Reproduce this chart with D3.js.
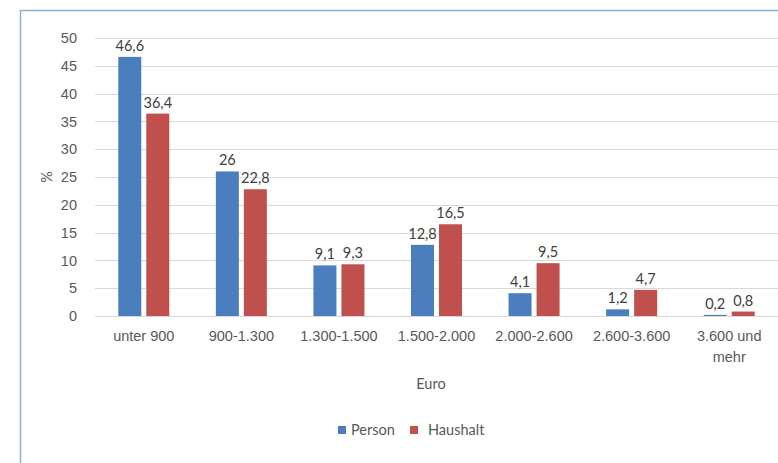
<!DOCTYPE html>
<html>
<head>
<meta charset="utf-8">
<script src="https://cdn.jsdelivr.net/npm/d3@7"></script>
<style>
  html, body { margin: 0; padding: 0; background: #fff; }
  svg { display: block; font-family: Lato, "Open Sans", "Liberation Sans", sans-serif; }
</style>
</head>
<body>
<svg id="chart" width="778" height="463"></svg>
<script>
// Einkommensklassen (Euro) und Anteile in %
const categories = ["unter 900", "900-1.300", "1.300-1.500", "1.500-2.000", "2.000-2.600", "2.600-3.600", "3.600 und mehr"];
const seriesNames = ["Person", "Haushalt"];
const person = [46.6, 26, 9.1, 12.8, 4.1, 1.2, 0.2];
const haushalt = [36.4, 22.8, 9.3, 16.5, 9.5, 4.7, 0.8];
const yTicks = [0, 5, 10, 15, 20, 25, 30, 35, 40, 45, 50];
const colors = ["#4a7ebf", "#c0504d"];

const svg = d3.select("#chart");
const textColor = "#595959";
const fs = 14.5;

// Chart frame
svg.append("path")
  .attr("d", "M20.5,463 V10.5 H778")
  .attr("fill", "none")
  .attr("stroke", "#8db3d1")
  .attr("stroke-width", 1.5);

const x = d3.scaleBand().domain(categories).range([95, 778]).paddingInner(0).paddingOuter(0);
const y = d3.scaleLinear().domain([0, 50]).range([316, 38]);

// Gridlines
svg.append("g").selectAll("line").data(yTicks).join("line")
  .attr("x1", 95).attr("x2", 778)
  .attr("y1", d => Math.round(y(d)) + 0.5).attr("y2", d => Math.round(y(d)) + 0.5)
  .attr("stroke", "#d9d9d9").attr("stroke-width", 1);

// Y axis labels
const yAxis = d3.axisLeft(y).tickValues(yTicks).tickSize(0).tickPadding(0).tickFormat(d3.format("d"));
const yg = svg.append("g").attr("transform", "translate(77,0)").call(yAxis);
yg.select(".domain").remove();
yg.selectAll("text").attr("fill", textColor).attr("font-size", fs);

// X axis labels
const xAxis = d3.axisBottom(x).tickSize(0).tickPadding(0);
const xg = svg.append("g").attr("transform", "translate(0,331)").call(xAxis);
xg.select(".domain").remove();
xg.selectAll("text").attr("fill", textColor).attr("font-size", fs)
  .each(function(d) {
    const t = d3.select(this);
    if (d === "3.600 und mehr") {
      t.text(null);
      t.append("tspan").attr("x", 0).attr("dy", "0.71em").text("3.600 und");
      t.append("tspan").attr("x", 0).attr("dy", "1.4em").text("mehr");
      t.attr("dy", null);
    }
  });

// Bars
const barW = 23, gap = 5;
const groups = [person, haushalt];
const barX = (i, s) => x(categories[i]) + x.bandwidth() / 2 + (s === 0 ? -(barW + gap / 2) : gap / 2);

groups.forEach((vals, s) => {
  const g = svg.append("g");
  g.selectAll("rect").data(vals).join("rect")
    .attr("x", (d, i) => barX(i, s))
    .attr("y", d => y(d))
    .attr("width", barW)
    .attr("height", d => y(0) - y(d))
    .attr("fill", colors[s]);
  g.selectAll("text").data(vals).join("text")
    .attr("x", (d, i) => barX(i, s) + barW / 2)
    .attr("y", d => y(d) - 6)
    .attr("text-anchor", "middle")
    .attr("fill", "#404040")
    .attr("font-size", fs)
    .text(d => d3.format(".1~f")(d).replace(".", ","));
});

// Axis titles
svg.append("text")
  .attr("transform", "translate(52,177) rotate(-90)")
  .attr("text-anchor", "middle")
  .attr("fill", textColor).attr("font-size", fs)
  .text("%");
svg.append("text")
  .attr("x", 431).attr("y", 389)
  .attr("text-anchor", "middle")
  .attr("fill", textColor).attr("font-size", fs)
  .text("Euro");

// Legend
const legend = svg.append("g");
const legendItems = [{ name: seriesNames[0], x: 338 }, { name: seriesNames[1], x: 410 }];
legendItems.forEach((item, i) => {
  legend.append("rect").attr("x", item.x).attr("y", 426).attr("width", 8).attr("height", 8).attr("fill", colors[i]);
  legend.append("text").attr("x", item.x + (i === 0 ? 13 : 18)).attr("y", 435)
    .attr("fill", textColor).attr("font-size", fs).text(item.name);
});
</script>
</body>
</html>
